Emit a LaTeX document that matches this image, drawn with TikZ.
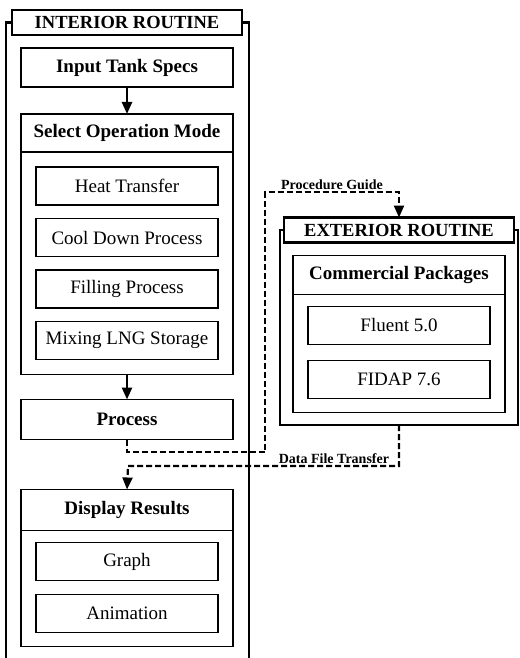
\documentclass[tikz,border=0pt]{standalone}
\usepackage{fontspec}
\setmainfont{Liberation Serif}
\usepackage{tikz}
\usetikzlibrary{arrows.meta, positioning, fit}

\begin{document}
\begin{tikzpicture}[
    x=1pt, y=-1pt,
    node distance=13pt,
    every node/.style={outer sep=0pt},
    frame/.style={draw, line width=2.6pt},
    headbox/.style={draw, line width=2.6pt, fill=white, minimum width=230pt, minimum height=25pt, inner sep=0pt, font=\bfseries\fontsize{18.5}{19}\selectfont},
    titlebox/.style={draw, line width=1.8pt, minimum width=212pt, minimum height=39pt, inner sep=0pt, font=\bfseries\fontsize{19}{20}\selectfont},
    itembox/.style={draw, line width=1.4pt, minimum width=182pt, minimum height=38pt, inner sep=0pt, font=\fontsize{19}{20}\selectfont},
    arrow/.style={-{Triangle[width=10pt,length=12pt]}, line width=2.4pt},
    link/.style={-{Triangle[width=10pt,length=12pt]}, line width=2.2pt, dash pattern=on 6pt off 3pt},
    linklabel/.style={font=\bfseries\fontsize{14}{15}\selectfont, inner sep=2pt}
]
\useasboundingbox (0,0) rectangle (519,658);

% Interior routine
\coordinate (intBL) at (6,658);
\coordinate (intBR) at (249,658);
\node[headbox] (intHead) at (127,22.5) {INTERIOR ROUTINE};
\draw[frame] (intHead.west) -| (intBL);
\draw[frame] (intHead.east) -| (intBR);

\node[titlebox, below=of intHead] (input) {Input Tank Specs};
\node[titlebox, below=27pt of input, minimum height=38pt] (selTitle) {Select Operation Mode};
\node[itembox, below=15pt of selTitle] (heat) {Heat Transfer};
\node[itembox, below=13.5pt of heat] (cool) {Cool Down Process};
\node[itembox, below=13.5pt of cool] (fill) {Filling Process};
\node[itembox, below=13.5pt of fill] (mix) {Mixing LNG Storage};
\coordinate[below=15pt of mix] (selBottom);
\node[draw, line width=1.8pt, inner sep=0pt, fit=(selTitle)(selBottom)] (select) {};

\node[titlebox, below=25pt of select, minimum height=40pt] (process) {Process};

\node[titlebox, below=50pt of process, minimum height=41pt] (dispTitle) {Display Results};
\node[itembox, below=12pt of dispTitle] (graph) {Graph};
\node[itembox, below=14pt of graph] (anim) {Animation};
\coordinate[below=14pt of anim] (dispBottom);
\node[draw, line width=1.8pt, inner sep=0pt, fit=(dispTitle)(dispBottom)] (display) {};

% Exterior routine
\node[frame, minimum width=238pt, minimum height=195pt] (extFrame) at (399,327.5) {};
\node[headbox] (extHead) at (extFrame.north) {EXTERIOR ROUTINE};
\node[titlebox, below=of extHead] (comTitle) {Commercial Packages};
\node[itembox, below=12pt of comTitle] (fluent) {Fluent 5.0};
\node[itembox, below=16pt of fluent] (fidap) {FIDAP 7.6};
\coordinate[below=14pt of fidap] (comBottom);
\node[draw, line width=1.8pt, inner sep=0pt, fit=(comTitle)(comBottom)] (commercial) {};

% Arrows
\draw[arrow] (input) -- (selTitle);
\draw[arrow] (select) -- (process);

% Links between routines
\coordinate (guideLow) at (265,452);
\coordinate (guideTop) at (265,192);
\coordinate (dataLow) at (128,466);
\draw[link] (process.south) |- (guideLow) -- (guideTop)
    -| node[linklabel, pos=0.25, above] {Procedure Guide} (extHead.north);
\draw[link] (extFrame.south) |- node[linklabel, pos=0.62, above] {Data File Transfer} (dataLow)
    -- (dispTitle.north);

\end{tikzpicture}
\end{document}
